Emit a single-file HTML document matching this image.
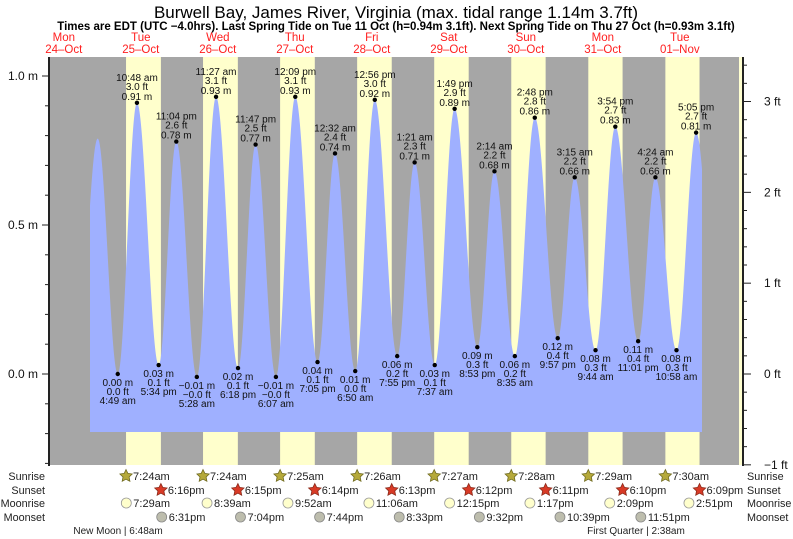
<!DOCTYPE html>
<html><head><meta charset="utf-8">
<style>
html,body{margin:0;padding:0;background:#fff;}
svg{display:block;font-family:"Liberation Sans",sans-serif;}
</style></head>
<body>
<svg id="chart" width="793" height="539" viewBox="0 0 793 539" xmlns="http://www.w3.org/2000/svg">
<text x="396" y="18" font-size="17" text-anchor="middle" fill="#000">Burwell Bay, James River, Virginia (max. tidal range 1.14m 3.7ft)</text>
<text x="396" y="30" font-size="11.5" font-weight="bold" text-anchor="middle" fill="#000">Times are EDT (UTC −4.0hrs). Last Spring Tide on Tue 11 Oct (h=0.94m 3.1ft). Next Spring Tide on Thu 27 Oct (h=0.93m 3.1ft)</text>
<g id="bands"></g>
<g id="tide"></g>
<g id="labels"></g>
<g id="axes"></g>
<g id="rows"></g>
</svg>
<script>
// ---- data ----
const dayNames = ["Mon","Tue","Wed","Thu","Fri","Sat","Sun","Mon","Tue"];
const dayDates = ["24\u2013Oct","25\u2013Oct","26\u2013Oct","27\u2013Oct","28\u2013Oct","29\u2013Oct","30\u2013Oct","31\u2013Oct","01\u2013Nov"];
// day offset from 25-Oct, clock time, height in metres, printed label
const tideDay = [-1,-1,0,0,0,0,1,1,1,1,2,2,2,3,3,3,3,4,4,4,4,5,5,5,5,6,6,6,6,7,7,7,7];
const tideClock = ["16:00","22:34","04:49","10:48","17:34","23:04","05:28","11:27","18:18","23:47","06:07","12:09","19:05","00:32","06:50","12:56","19:55","01:21","07:37","13:49","20:53","02:14","08:35","14:48","21:57","03:15","09:44","15:54","23:01","04:24","10:58","17:05","23:50"];
const tideHeight = [0.03,0.79,0.00,0.91,0.03,0.78,-0.01,0.93,0.02,0.77,-0.01,0.93,0.04,0.74,0.01,0.92,0.06,0.71,0.03,0.89,0.09,0.68,0.06,0.86,0.12,0.66,0.08,0.83,0.11,0.66,0.08,0.81,0.10];
const tideTimeLabel = ["","","4:49 am","10:48 am","5:34 pm","11:04 pm","5:28 am","11:27 am","6:18 pm","11:47 pm","6:07 am","12:09 pm","7:05 pm","12:32 am","6:50 am","12:56 pm","7:55 pm","1:21 am","7:37 am","1:49 pm","8:53 pm","2:14 am","8:35 am","2:48 pm","9:57 pm","3:15 am","9:44 am","3:54 pm","11:01 pm","4:24 am","10:58 am","5:05 pm",""];
const tideFtLabel = ["","","0.0 ft","3.0 ft","0.1 ft","2.6 ft","\u22120.0 ft","3.1 ft","0.1 ft","2.5 ft","\u22120.0 ft","3.1 ft","0.1 ft","2.4 ft","0.0 ft","3.0 ft","0.2 ft","2.3 ft","0.1 ft","2.9 ft","0.3 ft","2.2 ft","0.2 ft","2.8 ft","0.4 ft","2.2 ft","0.3 ft","2.7 ft","0.4 ft","2.2 ft","0.3 ft","2.7 ft",""];
const sunrise = ["7:24","7:24","7:25","7:26","7:27","7:28","7:29","7:30"];
const sunset = ["18:16","18:15","18:14","18:13","18:12","18:11","18:10","18:09"];
const moonrise = ["7:29","8:39","9:52","11:06","12:15","13:17","14:09","14:51"];
const moonset = ["18:31","19:04","19:44","20:33","21:32","22:39","23:51"];
const leftTicks = [0.0,0.5,1.0];
const rightTicks = [-1,0,1,2,3];

// ---- scales ----
const X0=102.3, PXH=77/24;
function hrs(day,clock){const p=clock.split(':');return day*24+(+p[0])+(+p[1])/60;}
function xT(t){return X0+t*PXH;}
function yM(m){return 374-m*298;}
function yF(f){return yM(f*0.3048);}
function fmt12(c){let p=c.split(':');let h=+p[0];const ap=h>=12?'pm':'am';h=h%12;if(h===0)h=12;return h+':'+p[1]+ap;}
const NS='http://www.w3.org/2000/svg';
function mk(tag,attrs,parent){const e=document.createElementNS(NS,tag);for(const k in attrs)e.setAttribute(k,attrs[k]);parent.appendChild(e);return e;}
const PL=49,PR=739,PT=57,PB=465;
const bands=document.getElementById('bands');
const tideG=document.getElementById('tide');
const lab=document.getElementById('labels');
const axes=document.getElementById('axes');
const rows=document.getElementById('rows');

let r=mk('rect',{x:PL,y:PT,width:PR-PL,height:PB-PT,fill:'#a6a6a6'},bands);


r=mk('rect',{x:PR,y:PT,width:4,height:PB-PT,fill:'#ffffd0'},bands);


for(let i=0;i<sunrise.length;i++){
  const a=xT(hrs(i,sunrise[i])),b=xT(hrs(i,sunset[i]));
  const e=mk('rect',{x:a,y:PT,width:b-a,height:PB-PT,fill:'#ffffcc'},bands);
  
  
}
for(let i=0;i<dayNames.length;i++){
  const x=xT((i-1)*24+12);
  let t=mk('text',{x:x,y:41,'font-size':11.5,'text-anchor':'middle',fill:'#ff2020'},bands);t.textContent=dayNames[i];
  
  
  t=mk('text',{x:x,y:53,'font-size':11.5,'text-anchor':'middle',fill:'#ff2020'},bands);t.textContent=dayDates[i];
  
  
}

const T=tideClock.map((c,i)=>hrs(tideDay[i],c));
function hAt(t){
  for(let i=0;i<T.length-1;i++){
    if(t>=T[i]&&t<=T[i+1]){const f=(t-T[i])/(T[i+1]-T[i]);return tideHeight[i]+(tideHeight[i+1]-tideHeight[i])*(1-Math.cos(Math.PI*f))/2;}
  }
  return tideHeight[tideHeight.length-1];
}
const FX0=90,FX1=702,FB=432;
let d='M'+FX0+','+FB;
for(let x=FX0;x<=FX1;x+=0.5){d+=' L'+x+','+yM(hAt((x-X0)/PXH)).toFixed(2);}
d+=' L'+FX1+','+FB+' Z';
const tp=mk('path',{d:d,fill:'#9fb0ff'},tideG);



for(let i=0;i<T.length;i++){
  if(!tideTimeLabel[i])continue;
  const x=xT(T[i]),y=yM(tideHeight[i]);
  const dot=mk('circle',{cx:x,cy:y,r:2.2,fill:'#000'},lab);
  
  
  const isHigh=i>0&&tideHeight[i]>tideHeight[i-1];
  const mStr=tideHeight[i]<0?'\u2212'+Math.abs(tideHeight[i]).toFixed(2)+' m':tideHeight[i].toFixed(2)+' m';
  const lines=isHigh?[tideTimeLabel[i],tideFtLabel[i],mStr]:[mStr,tideFtLabel[i],tideTimeLabel[i]];
  const ys=isHigh?[y-22,y-13,y-3]:[y+12,y+21,y+30];
  for(let k=0;k<3;k++){
    const t=mk('text',{x:x,y:ys[k],'font-size':10,'text-anchor':'middle',fill:'#111'},lab);
    t.textContent=lines[k];
    
    
  }
}

let ln=mk('line',{x1:PL,y1:PT,x2:PL,y2:PB+1,stroke:'#222','stroke-width':2},axes);


ln=mk('line',{x1:743,y1:PT,x2:743,y2:PB+1,stroke:'#222','stroke-width':2},axes);


for(let v=-3;v<=12;v++){
  const y=yM(v/10);if(y<PT||y>PB)continue;
  const e=mk('line',{x1:v%5===0?42:45,y1:y,x2:PL,y2:y,stroke:'#222','stroke-width':1},axes);
  
  
}
leftTicks.forEach(v=>{
  const t=mk('text',{x:38,y:yM(v)+4,'font-size':12,'text-anchor':'end',fill:'#111'},axes);
  t.textContent=v.toFixed(1)+' m';
  
  
});
for(let v=-5;v<=20;v++){
  const y=yF(v/5);if(y<PT||y>PB+1)continue;
  const e=mk('line',{x1:743,y1:y,x2:v%5===0?751:747,y2:y,stroke:'#222','stroke-width':1},axes);
  
  
}
rightTicks.forEach(v=>{
  const t=mk('text',{x:764,y:yF(v)+4,'font-size':12,fill:'#111'},axes);
  t.textContent=(v<0?'\u2212'+Math.abs(v):v)+' ft';
  
  
});

const rowNames=['Sunrise','Sunset','Moonrise','Moonset'];const rowY=[480,494,507,521];
rowNames.forEach((n,i)=>{
  let t=mk('text',{x:45,y:rowY[i],'font-size':10.8,'text-anchor':'end',fill:'#222'},rows);t.textContent=n;
  
  
  t=mk('text',{x:747,y:rowY[i],'font-size':10.8,fill:'#222'},rows);t.textContent=n;
  
  
});
function star(cx,cy,fill,stroke){
  let p='';for(let k=0;k<10;k++){const a=-Math.PI/2+k*Math.PI/5;const rr=k%2?3.2:6.5;p+=(cx+rr*Math.cos(a)).toFixed(1)+','+(cy+rr*Math.sin(a)).toFixed(1)+' ';}
  return mk('polygon',{points:p,fill:fill,stroke:stroke,'stroke-width':0.8},rows);
}
function addEntry(list,row,kind){
  list.forEach((c,i)=>{
    const x=xT(hrs(i,c)),y=rowY[row]-4;
    let s;
    if(kind==='sunrise')s=star(x,y,'#b5a93a','#6f6a20');
    else if(kind==='sunset')s=star(x,y,'#d83a26','#8a2a1a');
    else if(kind==='moonrise')s=mk('circle',{cx:x,cy:y,r:5,fill:'#ffffcc',stroke:'#999','stroke-width':0.8},rows);
    else s=mk('circle',{cx:x,cy:y,r:5,fill:'#bdbdad',stroke:'#888','stroke-width':0.8},rows);
    
    
    const t=mk('text',{x:x+7,y:rowY[row],'font-size':11,fill:'#222'},rows);
    t.textContent=fmt12(c);
    
    
  });
}
addEntry(sunrise,0,'sunrise');addEntry(sunset,1,'sunset');addEntry(moonrise,2,'moonrise');addEntry(moonset,3,'moonset');
let mp=mk('text',{x:118,y:534,'font-size':10,'text-anchor':'middle',fill:'#222'},rows);mp.textContent='New Moon | 6:48am';


mp=mk('text',{x:636,y:534,'font-size':10,'text-anchor':'middle',fill:'#222'},rows);mp.textContent='First Quarter | 2:38am';


</script>
</body></html>
